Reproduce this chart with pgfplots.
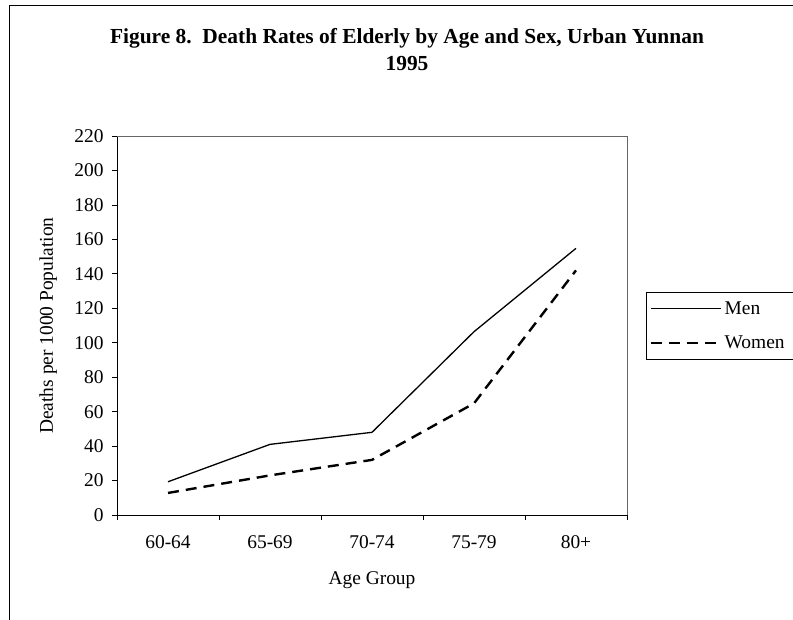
\documentclass[border=0pt]{standalone}
\usepackage{pgfplots}
\pgfplotsset{compat=1.18}
\usepackage{fontspec}
\setmainfont{Liberation Serif}

\begin{document}
\begin{tikzpicture}
\path[use as bounding box] (0,0) rectangle (793bp,-620bp);
\draw[line width=1bp] (9bp,-620bp) -- (9bp,-5.5bp) -- (800bp,-5.5bp);
\node[font=\fontsize{21.5}{27}\selectfont\bfseries, align=center, anchor=north]
  at (407bp,-25bp) {Figure 8.\ \ Death Rates of Elderly by Age and Sex, Urban Yunnan\\1995};
\begin{axis}[
    at={(117bp,-515bp)}, anchor=south west,
    scale only axis,
    width=510bp, height=379bp,
    xmin=0, xmax=5,
    ymin=0, ymax=220,
    xtick={0,1,2,3,4,5},
    xticklabels={},
    extra x ticks={0.5,1.5,2.5,3.5,4.5},
    extra x tick labels={60-64,65-69,70-74,75-79,80+},
    extra x tick style={major tick length=0bp,
      xticklabel style={anchor=center, yshift=-27bp}},
    ytick={0,20,...,220},
    major tick length=5bp,
    tick align=outside,
    tick pos=left,
    tick style={black, line width=0.8bp},
    /pgf/number format/assume math mode=true,
    ticklabel style={font=\fontsize{19.5}{23}\selectfont},
    yticklabel style={xshift=-5bp},
    xlabel={Age Group},
    ylabel={Deaths per 1000 Population},
    label style={font=\fontsize{19.5}{23}\selectfont},
    xlabel style={at={(axis description cs:0.5,-0.1715)}, anchor=center},
    ylabel style={at={(axis description cs:-0.135,0.5)}, anchor=center},
    axis line style={line width=1bp},
    axis x line*=bottom, axis y line*=left,
    clip=false,
    legend style={at={(axis description cs:1.037,0.588)}, anchor=north west,
      draw=black, line width=0.8bp,
      font=\fontsize{19.5}{23}\selectfont, inner xsep=4bp, inner ysep=7bp,
      row sep=16bp, cells={anchor=west}, text width=80bp},
    legend image code/.code={\draw[#1] (0bp,0bp) -- (70bp,0bp);},
]
\draw[gray!80!black, line width=1bp] (axis cs:0,220) -- (axis cs:5,220) -- (axis cs:5,0);
\addplot[black, line width=1.3bp] coordinates {
    (0.5,19.3) (1.5,41) (2.5,48) (3.5,106.4) (4.5,154.8)
};
\addlegendentry{Men}
\addplot[black, line width=2.4bp, dash pattern=on 11bp off 7bp] coordinates {
    (0.5,12.8) (1.5,23) (2.5,32) (3.5,64.8) (4.5,142)
};
\addlegendentry{Women}
\end{axis}
\end{tikzpicture}
\end{document}
